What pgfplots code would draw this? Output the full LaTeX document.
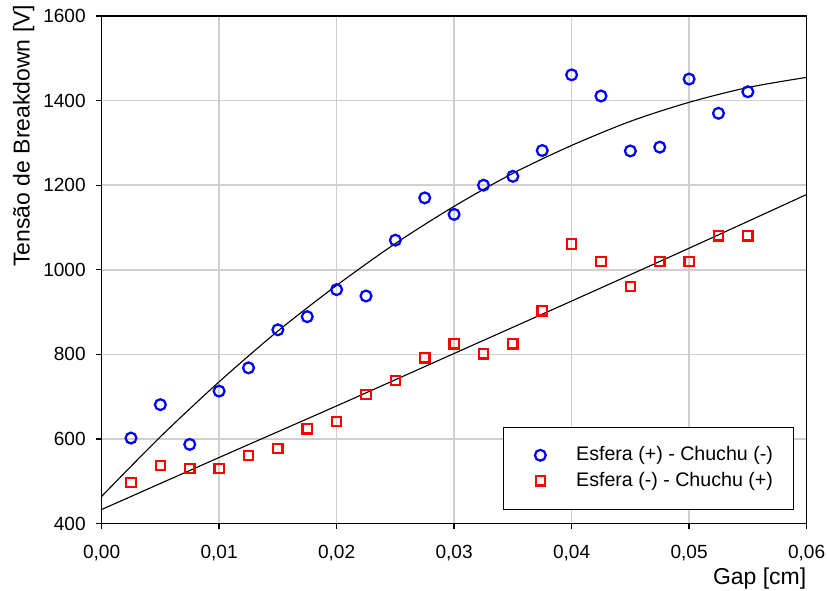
\documentclass[border=0pt]{standalone}
\usepackage{fontspec}
\setmainfont{Liberation Sans}
\usepackage{pgfplots}
\pgfplotsset{compat=1.18}
\usetikzlibrary{calc}
\begin{document}
\begin{tikzpicture}
\begin{axis}[
  scale only axis,
  width=377.5pt, height=271.7pt,
  xmin=0, xmax=0.06, ymin=400, ymax=1600,
  xtick={0,0.01,0.02,0.03,0.04,0.05,0.06},
  ytick={400,600,800,1000,1200,1400,1600},
  scaled x ticks=false,
  /pgf/number format/assume math mode=true,
  xticklabel style={/pgf/number format/.cd, fixed, fixed zerofill, precision=2, use comma, /tikz/.cd, yshift=-5.3pt, inner xsep=1pt},
  yticklabel style={/pgf/number format/.cd, fixed, precision=0, 1000 sep={}, /tikz/.cd, xshift=-2pt},
  ticklabel style={font=\fontsize{10.2}{12}\selectfont},
  grid=major,
  major grid style={draw=gray!38, line width=0.8pt},
  axis line style={black, line width=0.9pt},
  tick align=outside,
  major tick length=3pt,
  tick style={black, line width=0.7pt},
  xtick pos=bottom, ytick pos=left,
  xlabel={Gap [cm]},
  xlabel style={at={(rel axis cs:1,0)}, anchor=base east, yshift=-32.6pt, inner xsep=0pt, inner ysep=1pt, font=\fontsize{12.3}{14}\selectfont},
  ylabel={Tensão de Breakdown [V]},
  ylabel style={at={($(rel axis cs:0,1)+(-38.5pt,8.8pt)$)}, anchor=base east, rotate=0, inner xsep=2.6pt, inner ysep=7pt, font=\fontsize{12.3}{14}\selectfont},
  legend style={at={(1,0)}, anchor=south east, xshift=-7pt, yshift=7.5pt, draw=black, line width=0.5pt,
    inner xsep=8.8pt, inner ysep=8.5pt, row sep=0.6pt, font=\fontsize{10.5}{12}\selectfont, cells={anchor=west}},
  legend cell align=left,
  legend image code/.code={\path[draw=none] (0pt,0pt) -- (28.2pt,0pt); \draw[#1] plot coordinates {(11pt,0pt)};},
]
% fitted curves
\addplot[black, line width=0.6pt, smooth, forget plot] coordinates {
 (0,464) (0.005,605) (0.01,735) (0.015,855) (0.02,963) (0.025,1062)
 (0.03,1150) (0.035,1228) (0.04,1294) (0.045,1351) (0.05,1396) (0.055,1431) (0.06,1455)};
\addplot[black, line width=0.6pt, smooth, forget plot] coordinates {
 (0,433) (0.01,556) (0.02,678) (0.03,802) (0.04,926) (0.05,1051) (0.06,1178)};
% data
\addplot[only marks, mark=o, mark size=2.9pt, blue, mark options={line width=1.2pt}] coordinates {
 (0.0025,602) (0.005,681) (0.0075,587) (0.01,713) (0.0125,768) (0.015,858)
 (0.0175,889) (0.02,953) (0.0225,938) (0.025,1070) (0.0275,1170) (0.03,1131)
 (0.0325,1200) (0.035,1221) (0.0375,1282) (0.04,1461) (0.0425,1411) (0.045,1281)
 (0.0475,1290) (0.05,1451) (0.0525,1370) (0.055,1421)};
\addlegendentry{Esfera (+) - Chuchu (-)}
\addplot[only marks, mark=square, mark size=2.5pt, red, mark options={line width=1.2pt}] coordinates {
 (0.0025,497) (0.005,537) (0.0075,530) (0.01,530) (0.0125,561) (0.015,577)
 (0.0175,624) (0.02,641) (0.0225,705) (0.025,738) (0.0275,792) (0.03,825)
 (0.0325,801) (0.035,825) (0.0375,903) (0.04,1061) (0.0425,1020) (0.045,960)
 (0.0475,1020) (0.05,1020) (0.0525,1080) (0.055,1080)};
\addlegendentry{Esfera (-) - Chuchu (+)}
\end{axis}
\end{tikzpicture}
\end{document}
